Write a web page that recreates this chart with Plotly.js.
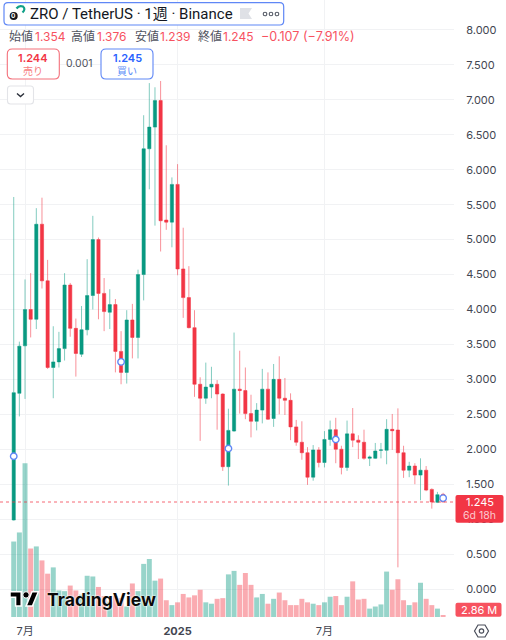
<!DOCTYPE html>
<html><head><meta charset="utf-8">
<script src="https://cdn.plot.ly/plotly-3.0.1.min.js"></script>
<style>html,body{margin:0;padding:0;background:#fff;overflow:hidden}#c{width:506px;height:640px}</style>
</head><body><div id="c"></div>
<script>
const weeks = ["2024-06-17","2024-06-24","2024-07-01","2024-07-08","2024-07-15","2024-07-22","2024-07-29","2024-08-05","2024-08-12","2024-08-19","2024-08-26","2024-09-02","2024-09-09","2024-09-16","2024-09-23","2024-09-30","2024-10-07","2024-10-14","2024-10-21","2024-10-28","2024-11-04","2024-11-11","2024-11-18","2024-11-25","2024-12-02","2024-12-09","2024-12-16","2024-12-23","2024-12-30","2025-01-06","2025-01-13","2025-01-20","2025-01-27","2025-02-03","2025-02-10","2025-02-17","2025-02-24","2025-03-03","2025-03-10","2025-03-17","2025-03-24","2025-03-31","2025-04-07","2025-04-14","2025-04-21","2025-04-28","2025-05-05","2025-05-12","2025-05-19","2025-05-26","2025-06-02","2025-06-09","2025-06-16","2025-06-23","2025-06-30","2025-07-07","2025-07-14","2025-07-21","2025-07-28","2025-08-04","2025-08-11","2025-08-18","2025-08-25","2025-09-01","2025-09-08","2025-09-15","2025-09-22","2025-09-29","2025-10-06","2025-10-13","2025-10-20","2025-10-27","2025-11-03","2025-11-10","2025-11-17","2025-11-24","2025-12-01"];
const opens = [0.987,2.80,3.48,4.00,3.86,5.22,4.41,3.17,3.25,3.44,4.35,3.73,3.36,3.71,4.20,5.00,4.23,3.96,4.07,3.40,3.10,3.85,3.60,4.50,6.30,6.61,6.99,5.28,5.25,5.79,4.58,4.17,3.74,2.93,2.73,2.89,2.93,2.79,1.75,2.26,2.86,2.84,2.51,2.40,2.56,2.86,2.44,3.00,2.73,2.70,2.32,2.10,1.95,1.60,1.99,1.81,2.14,2.28,2.00,1.74,2.22,2.13,2.10,1.87,1.87,1.985,1.985,2.285,2.275,1.95,1.70,1.76,1.63,1.70,1.425,1.24,1.354];
const highs = [5.61,3.54,4.43,4.52,5.45,5.60,4.71,3.76,3.68,4.52,4.38,3.87,4.05,4.72,5.34,5.03,4.45,4.29,4.15,3.69,3.99,4.08,4.57,6.78,7.24,7.18,7.27,6.35,5.89,6.08,5.17,4.62,3.99,3.03,3.24,3.18,2.99,2.80,2.58,3.67,3.41,3.17,2.78,2.66,3.15,3.10,3.22,3.33,3.02,2.80,2.42,2.40,2.03,2.06,2.03,2.26,2.41,2.45,2.05,2.41,2.59,2.20,2.28,1.91,2.09,2.09,2.43,2.505,2.585,2.05,1.82,1.80,1.87,1.76,1.44,1.39,1.376];
const lows = [0.98,2.47,2.72,3.60,3.72,4.30,3.15,2.73,3.17,3.27,3.61,3.04,3.32,3.63,4.00,3.86,3.69,3.72,3.10,2.93,2.94,3.30,3.30,4.13,5.72,5.20,4.83,5.14,4.89,4.49,3.88,3.73,2.75,2.12,2.65,2.73,2.28,1.69,1.48,2.25,2.51,2.43,2.17,2.27,2.37,2.42,2.32,2.50,2.49,2.13,2.05,1.85,1.49,1.55,1.74,1.74,2.05,1.80,1.64,1.69,2.03,1.86,1.85,1.76,1.86,1.87,1.785,1.99,0.31,1.59,1.60,1.50,1.27,1.40,1.15,1.23,1.239];
const closes = [2.81,3.475,4.00,3.86,5.22,4.41,3.17,3.25,3.44,4.35,3.73,3.37,3.71,4.20,5.00,4.23,3.97,4.07,3.40,3.10,3.85,3.60,4.50,6.30,6.61,6.99,5.27,5.25,5.79,4.58,4.17,3.74,2.93,2.73,2.89,2.93,2.79,1.75,2.27,2.86,2.84,2.51,2.40,2.56,2.86,2.43,3.00,2.73,2.70,2.32,2.10,1.95,1.60,1.99,1.81,2.14,2.28,2.00,1.74,2.22,2.13,2.10,1.87,1.89,1.975,1.99,2.285,2.265,1.95,1.70,1.76,1.63,1.70,1.415,1.245,1.35,1.245];
const volumesM = [108,121,220,98,101,81,62,71,38,37,45,38,32,59,58,43,30,22,30,27,15,48,37,76,83,52,55,24,17,21,33,28,31,39,21,19,26,27,61,66,46,63,46,28,33,19,26,35,24,17,17,26,21,19,17,21,29,30,17,29,51,25,26,12,15,18,65,39,54,24,17,21,49,26,17,12,2.86];
const eventWeeks = ["2024-06-17","2024-10-28","2025-03-10","2025-07-21","2025-12-01"];
const eventLevels = [1.90,3.25,2.01,2.14,1.30];
const priceTicks = [0,0.5,1,1.5,2,2.5,3,3.5,4,4.5,5,5.5,6,6.5,7,7.5,8];
const priceLabels = ["0.000","0.500","1.000","1.500","2.000","2.500","3.000","3.500","4.000","4.500","5.000","5.500","6.000","6.500","7.000","7.500","8.000"];
const timeTicks = ["2024-07-01","2025-01-06","2025-07-07"];
const timeLabels = ["7月","<b>2025</b>","7月"];
const lastPrice = 1.245;

const UP='#089981', DN='#f23645', FONT="Inter, 'Noto Sans CJK JP', sans-serif";
const W=506,H=640,PLOT_R=454,PLOT_B=617;
const fx=x=>x/W, fy=y=>1-y/H, pt=(x,y)=>fx(x)+' '+fy(y);
const round=(x0,y0,x1,y1,r)=>`M${pt(x0+r,y0)}L${pt(x1-r,y0)}Q${pt(x1,y0)} ${pt(x1,y0+r)}L${pt(x1,y1-r)}Q${pt(x1,y1)} ${pt(x1-r,y1)}L${pt(x0+r,y1)}Q${pt(x0,y1)} ${pt(x0,y1-r)}L${pt(x0,y0+r)}Q${pt(x0,y0)} ${pt(x0+r,y0)}Z`;
const poly=a=>'M'+a.map(p=>pt(p[0],p[1])).join('L')+'Z';
const pshape=(path,fill,line,lw)=>({type:'path',xref:'paper',yref:'paper',path,fillcolor:fill||'rgba(0,0,0,0)',line:{color:line||'rgba(0,0,0,0)',width:lw||0},layer:'above'});
const circ=(cx,cy,r,fill,line,lw)=>({type:'circle',xref:'paper',yref:'paper',x0:fx(cx-r),x1:fx(cx+r),y0:fy(cy+r),y1:fy(cy-r),fillcolor:fill,line:{color:line||'rgba(0,0,0,0)',width:lw||0},layer:'above'});
const note=(x,y,text,size,color,anchor,extra)=>Object.assign({xref:'paper',yref:'paper',x:fx(x),y:fy(y),text,showarrow:false,xanchor:anchor||'left',yanchor:'middle',borderpad:0,font:Object.assign({family:FONT,size,color},(extra||{}).font||{})},(extra&&extra.opts)||{});

const traces=[
 {type:'bar',x:weeks,y:volumesM,yaxis:'y',hoverinfo:'skip',
  marker:{color:closes.map((c,i)=>c>=opens[i]?'rgba(8,153,129,0.42)':'rgba(242,54,69,0.42)'),line:{width:0}}},
 {type:'candlestick',x:weeks,open:opens,high:highs,low:lows,close:closes,yaxis:'y2',whiskerwidth:0,
  increasing:{line:{color:'rgba(8,153,129,0.5)',width:1},fillcolor:UP},
  decreasing:{line:{color:'rgba(242,54,69,0.55)',width:1},fillcolor:DN}},
 {type:'scatter',mode:'markers',x:eventWeeks,y:eventLevels,yaxis:'y2',hoverinfo:'skip',
  marker:{size:6.5,color:'#fff',line:{color:'#5f87f6',width:1.4}}}
];

const TV=(v,w)=>[10+v*0.8,591.7+(w-4)*0.8];
const shapes=[
 {type:'line',xref:'paper',yref:'y2',x0:0,x1:fx(PLOT_R),y0:lastPrice,y1:lastPrice,line:{color:'rgba(242,54,69,0.75)',width:1,dash:'dot'},layer:'above'},
 // header box
 pshape(round(4,2.7,283.7,25,4),'#fff','#5f87f6',1.2),
 pshape(`M${pt(16.5,8.5)}Q${pt(19,5)} ${pt(23,6.5)}Q${pt(26,9)} ${pt(22.5,12.5)}`,null,'#10a088',2.2),
 circ(13.7,16,4,'#15151a'),
 pshape(poly([[240,8],[252,8],[248.5,13.5],[252,19],[240,19]]),'#dfe1e6'),
 circ(265,14,1.8,'#fff','#555a66',1.1),circ(271,14,1.8,'#fff','#555a66',1.1),circ(277,14,1.8,'#fff','#555a66',1.1),
 // buttons
 pshape(round(7.3,49,59.3,79,5),'#fff','#f4707b',1.1),
 pshape(round(101,49,153,79,5),'#fff','#5f87f6',1.1),
 pshape(round(7.5,86,33.5,104,3),'#fff','#e3e4e8',1.1),
 pshape(`M${pt(17,93.5)}L${pt(20.5,96.5)}L${pt(24,93.5)}`,null,'#2a2e39',1.4),
 // price and volume tags
 pshape(round(455.5,495,503.5,522.7,2),DN),
 pshape(round(455.5,602.7,501.5,616.7,2),'#f7525f'),
 // TradingView mark
 pshape(poly([TV(0,4),TV(14,4),TV(14,22),TV(7,22),TV(7,11),TV(0,11)]),'#000','#fff',1.5),
 pshape(poly([TV(20,22),TV(28,22),TV(35.5,4),TV(27.5,4)]),'#000','#fff',1.5),
 circ(TV(20,8)[0],TV(20,8)[1],3.2,'#000','#fff',1),
 // gear
 pshape(poly([[474.5,631],[478,625],[485,625],[488.5,631],[485,637],[478,637]]),'#fff','#4a4e5a',1.2),
 circ(481.5,631,2.2,'#fff','#4a4e5a',1.2)
];

const annotations=[
 note(13.7,16.3,'<b>0</b>',6.5,'#fff','center'),
 note(29,14,'ZRO / TetherUS · 1週 · Binance',15,'#131722','left',{font:{family:"Roboto, 'Noto Sans CJK JP', sans-serif"}}),
 note(8,36,'始値',12,'#50535e'),note(34,36,'1.354',12,'#f7525f'),
 note(70,36,'高値',12,'#50535e'),note(95.5,36,'1.376',12,'#f7525f'),
 note(134,36,'安値',12,'#50535e'),note(159,36,'1.239',12,'#f7525f'),
 note(197,36,'終値',12,'#50535e'),note(222,36,'1.245',12,'#f7525f'),
 note(260,36,'−0.107 (−7.91%)',12.6,'#f7525f'),
 note(33.3,57.5,'1.244',11,DN,'center',{font:{weight:600}}),
 note(33.3,71,'売り',10,'#f77c80','center'),
 note(79.5,64,'0.001',10.5,'#50535e','center'),
 note(127,57.5,'1.245',11,'#2962ff','center',{font:{weight:600}}),
 note(127,71,'買い',10,'#5b8cf7','center'),
 note(479.5,502,'1.245',11,'#fff','center'),
 note(479.5,515.5,'6d 18h',10.5,'#fcc9cd','center'),
 note(478.5,610,'2.86 M',11,'#fff','center'),
 note(45.5,599.5,'TradingView',17.6,'#0a0a0a','left',{font:{weight:700,shadow:'0 0 2px #fff, 0 0 2px #fff'}})
];

const layout={
 width:W,height:H,margin:{l:0,r:0,t:0,b:0,pad:0},paper_bgcolor:'#fff',plot_bgcolor:'#fff',showlegend:false,
 boxmode:'overlay',boxgap:0.18,bargap:0.12,dragmode:false,font:{family:FONT,size:11,color:'#434651'},
 xaxis:{type:'date',domain:[0,PLOT_R/W],range:['2024-05-31','2025-12-14 12:00'],rangeslider:{visible:false},
   tickvals:timeTicks,ticktext:timeLabels,tickmode:'array',showgrid:true,gridcolor:'#f1f2f4',gridwidth:1,zeroline:false,
   showline:false,ticks:'outside',ticklen:4,tickcolor:'rgba(0,0,0,0)',tickfont:{family:FONT,size:11,color:'#434651'},fixedrange:true},
 yaxis:{domain:[(H-PLOT_B)/H,1],range:[0,883],visible:false,showgrid:false,zeroline:false,fixedrange:true},
 yaxis2:{overlaying:'y',side:'right',anchor:'x',range:[-0.4007,8.429],tickmode:'array',tickvals:priceTicks,ticktext:priceLabels,
   showgrid:true,gridcolor:'#f1f2f4',gridwidth:1,zeroline:false,showline:false,ticks:'outside',ticklen:9,tickcolor:'rgba(0,0,0,0)',
   tickfont:{family:FONT,size:11,color:'#434651'},fixedrange:true},
 shapes,annotations
};
Plotly.newPlot('c',traces,layout,{displayModeBar:false,staticPlot:true});
</script></body></html>
